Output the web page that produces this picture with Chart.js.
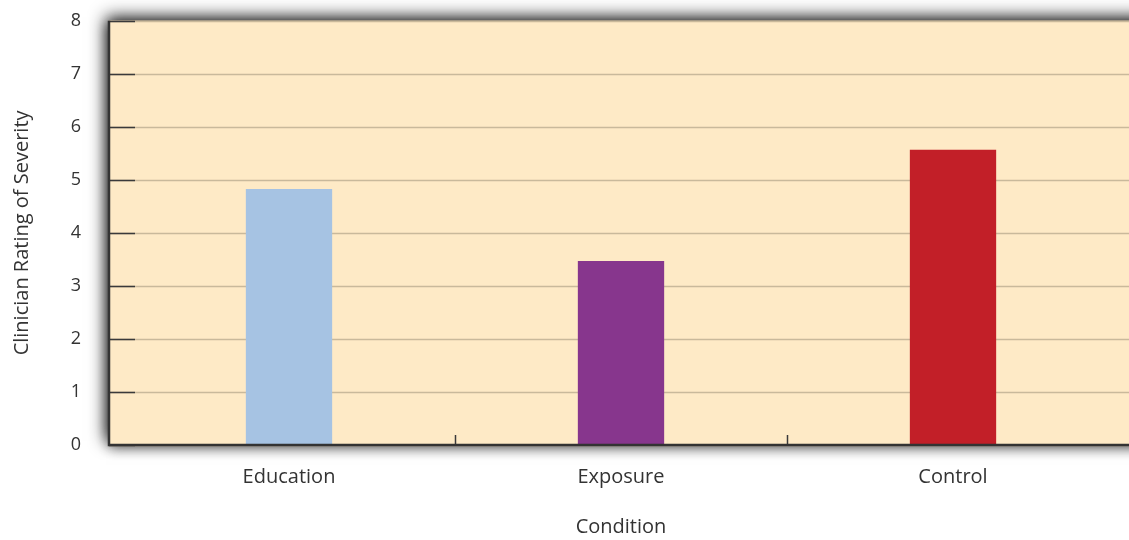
<!DOCTYPE html>
<html>
<head>
<meta charset="utf-8">
<script src="https://cdn.jsdelivr.net/npm/chart.js@4"></script>
<style>
  html, body { margin: 0; padding: 0; background: #fff; overflow: hidden; }
  #frame { width: 1129px; height: 540px; overflow: hidden; position: relative; }
  #wrap { width: 1129px; height: 572px; position: absolute; left: 0; top: -32px; }
</style>
</head>
<body>
<div id="frame"><div id="wrap"><canvas id="barChart"></canvas></div></div>
<script>
// Data
const conditions = ['Education', 'Exposure', 'Control'];
const severity = [4.83, 3.47, 5.57];
const barColors = ['#a6c3e3', '#87368d', '#c21f28'];
const yTicks = [0, 1, 2, 3, 4, 5, 6, 7, 8];

const PANEL_LEFT = 109; // frame starts a little left of the category area

// Background panel with shadowed frame, grid and short ticks
const panel = {
    id: 'panel',
    beforeDatasetsDraw(chart) {
        const { ctx, chartArea: a, scales, width } = chart;
        ctx.save();
        ctx.fillStyle = '#feeac6';
        // soft shadow all round, then a heavier one above and left
        ctx.shadowColor = 'rgba(0,0,0,0.45)';
        ctx.shadowBlur = 12;
        ctx.shadowOffsetX = 0;
        ctx.shadowOffsetY = 3;
        ctx.fillRect(PANEL_LEFT, a.top, width - PANEL_LEFT + 30, a.bottom - a.top);
        ctx.shadowColor = 'rgba(0,0,0,0.9)';
        ctx.shadowBlur = 16;
        ctx.shadowOffsetX = -3;
        ctx.shadowOffsetY = -4;
        ctx.fillRect(PANEL_LEFT, a.top, width - PANEL_LEFT + 30, a.bottom - a.top);
        ctx.restore();
        ctx.save();
        ctx.fillStyle = '#feeac6';
        ctx.fillRect(PANEL_LEFT, a.top, width - PANEL_LEFT, a.bottom - a.top);
        ctx.strokeStyle = '#c9b99b';
        ctx.lineWidth = 1.5;
        yTicks.forEach(v => {
            const y = Math.round(scales.y.getPixelForValue(v)) + 0.5;
            ctx.beginPath();
            ctx.moveTo(PANEL_LEFT, y);
            ctx.lineTo(width, y);
            ctx.stroke();
        });
        ctx.restore();
    },
    afterDatasetsDraw(chart) {
        const { ctx, chartArea: a, scales, width } = chart;
        ctx.save();
        ctx.strokeStyle = '#3a3a3a';
        ctx.lineWidth = 1.5;
        yTicks.forEach(v => {
            const y = Math.round(scales.y.getPixelForValue(v)) + 0.5;
            ctx.beginPath();
            ctx.moveTo(PANEL_LEFT, y);
            ctx.lineTo(PANEL_LEFT + 26, y);
            ctx.stroke();
        });
        for (let i = 0; i < conditions.length - 1; i++) {
            const x = Math.round((scales.x.getPixelForValue(i) + scales.x.getPixelForValue(i + 1)) / 2) + 0.5;
            ctx.beginPath();
            ctx.moveTo(x, a.bottom);
            ctx.lineTo(x, a.bottom - 10);
            ctx.stroke();
        }
        ctx.lineWidth = 2.5;
        ctx.strokeStyle = '#333';
        ctx.beginPath();
        ctx.moveTo(PANEL_LEFT, a.top);
        ctx.lineTo(PANEL_LEFT, a.bottom);
        ctx.lineTo(width, a.bottom);
        ctx.stroke();
        ctx.restore();
    }
};

const ctx = document.getElementById('barChart').getContext('2d');
const barChart = new Chart(ctx, {
    type: 'bar',
    data: {
        labels: conditions,
        datasets: [{
            data: severity,
            backgroundColor: barColors,
            borderWidth: 0,
            barPercentage: 0.26,
            categoryPercentage: 1
        }]
    },
    options: {
        responsive: true,
        maintainAspectRatio: false,
        animation: false,
        layout: { padding: { top: 20, left: 0, right: 10, bottom: 0 } },
        plugins: {
            legend: { display: false },
            tooltip: { enabled: false }
        },
        scales: {
            x: {
                afterFit: s => { s.height = 95; },
                grid: { display: false },
                border: { display: false },
                ticks: {
                    color: '#333',
                    padding: 12,
                    maxRotation: 0,
                    font: { family: 'Open Sans', size: 20 }
                },
                title: {
                    display: true,
                    text: 'Condition',
                    color: '#333',
                    padding: { top: 0, bottom: 1 },
                    font: { family: 'Open Sans', size: 20 }
                }
            },
            y: {
                min: 0,
                max: 8,
                afterFit: s => { s.width = 123; },
                border: { display: false },
                grid: { display: false, drawTicks: false },
                ticks: {
                    stepSize: 1,
                    color: '#333',
                    padding: 42,
                    font: { family: 'Open Sans', size: 18 }
                },
                title: {
                    display: true,
                    text: 'Clinician Rating of Severity',
                    color: '#333',
                    padding: { top: 10, bottom: 0 },
                    font: { family: 'Open Sans', size: 20 }
                }
            }
        }
    },
    plugins: [panel]
});
</script>
</body>
</html>
